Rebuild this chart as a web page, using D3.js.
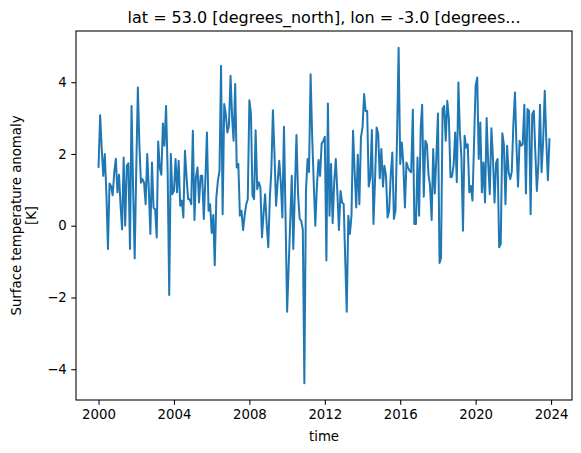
<!DOCTYPE html>
<html>
<head>
<meta charset="utf-8">
<script src="https://cdn.jsdelivr.net/npm/d3@7"></script>
<style>
  body { margin: 0; background: #fff; }
  text { font-family: "DejaVu Sans", sans-serif; fill: #000; }
</style>
</head>
<body>
<script>
"use strict";
// monthly surface temperature anomaly [K], Jan 2000 .. Dec 2023, one row per year
const startYear = 2000;
const anomaly = [
  1.64, 3.08, 2.2, 1.39, 2.0, 0.9, -0.65, 1.18, 1.1, 0.85, 1.5, 1.87,
  0.93, 1.42, 0.6, -0.1, 1.9, 0.0, 1.67, 1.74, -0.65, 3.34, 1.0, -0.91,
  1.6, 3.85, 2.3, 1.2, 1.3, 1.2, 0.6, 2.0, 1.0, -0.23, 1.76, 0.5,
  0.46, -0.33, 2.35, 1.62, 1.42, 2.85, 2.23, 3.34, 1.5, -1.93, 2.0, 0.88,
  0.97, 1.86, 0.93, 1.81, 0.56, 0.7, 0.23, 2.09, 1.35, 0.74, 0.74, 0.6,
  2.65, 0.16, 1.35, 1.62, 0.65, 1.39, 1.39, 0.19, 1.3, 2.6, 0.42, 0.6,
  -0.2, 0.3, -1.1, 0.79, 1.25, 1.53, 4.46, 0.32, 3.39, 3.11, 2.6, 2.79,
  4.18, 3.0, 2.37, 3.95, 1.62, 1.72, 0.28, 0.42, -0.12, 0.28, 0.6, 0.74,
  3.5, 3.11, 0.84, 0.74, 2.66, 1.02, 1.21, 1.07, -0.32, 0.32, 0.88, 0.05,
  -0.6, 0.79, 1.53, 3.22, 2.0, 0.56, 1.2, 1.81, 1.2, 0.23, 2.76, 0.3,
  -2.4, -1.1, 0.05, 1.39, -0.65, 1.0, 2.53, 0.88, 0.19, 0.14, -0.1, -4.39,
  0.97, 1.86, 1.5, 4.22, 2.5, 1.2, 0.0, 1.1, 1.83, 1.39, 2.29, 2.35,
  2.48, -0.97, 3.41, 0.28, 1.72, 0.07, 1.2, 1.86, 0.9, -0.12, 0.97, 0.65,
  0.6, -1.0, -2.4, 0.28, -0.23, 0.28, 2.65, 1.5, 0.51, 1.98, 0.6, 2.46,
  2.74, 3.67, 3.2, 3.2, 1.09, 1.35, 2.67, 0.05, 1.3, 2.74, 2.55, 1.32,
  2.14, 1.09, 1.67, 1.39, 0.23, 0.42, 1.4, 2.04, 0.19, 0.42, 2.5, 4.96,
  1.72, 2.32, 1.72, 0.51, 1.76, 1.62, 1.53, 1.49, 3.23, 0.05, 0.05, 1.9,
  0.28, 2.74, 3.37, 0.81, 2.37, 2.27, 1.44, 1.11, 0.16, 2.14, 0.9, 1.9,
  3.13, -1.04, -0.9, 3.26, 3.34, 2.37, 3.48, 2.97, 1.35, 1.37, 1.7, 2.6,
  1.21, 3.99, 2.65, 1.9, -0.14, 2.51, 2.18, 2.27, 0.93, 1.11, 0.7, 2.3,
  3.9, 4.13, 1.86, 2.88, 0.93, 1.76, 0.65, 3.0, 1.72, 0.88, 2.72, 1.9,
  0.65, 1.76, 1.86, -0.6, -0.51, 2.58, 2.27, 0.6, 2.23, 1.49, 1.3, 1.5,
  2.83, 3.71, 2.27, 1.09, 2.37, 2.23, 2.27, 3.37, 0.9, 3.25, 3.2, 0.32,
  3.11, 3.2, 2.09, 0.97, 1.72, 3.37, 1.49, 2.37, 3.76, 2.37, 1.27, 2.41
];
const xTickYears = [2000, 2004, 2008, 2012, 2016, 2020, 2024];
const yTicks = [-4, -2, 0, 2, 4];
const title = "lat = 53.0 [degrees_north], lon = -3.0 [degrees...";
const yLabel = ["Surface temperature anomaly", "[K]"];
const xLabel = "time";

const width = 581, height = 453;
const margin = {top: 31, right: 9, bottom: 53, left: 76};
const innerW = width - margin.left - margin.right;
const innerH = height - margin.top - margin.bottom;

const points = anomaly.map((v, i) => ({date: new Date(startYear, i, 1), value: v}));

let svg = d3.select("body")
            .append("svg")
            .attr("width", width)
            .attr("height", height);

let plot = svg.append("g")
              .attr("transform", `translate(${margin.left},${margin.top})`);

// matplotlib style 5% margins on both axes
let tExt = d3.extent(points, d => +d.date);
let tPad = (tExt[1] - tExt[0]) * 0.05;
let x = d3.scaleTime()
          .domain([new Date(tExt[0] - tPad), new Date(tExt[1] + tPad)])
          .range([0, innerW]);

let vExt = d3.extent(points, d => d.value);
let vPad = (vExt[1] - vExt[0]) * 0.05;
let y = d3.scaleLinear()
          .domain([vExt[0] - vPad, vExt[1] + vPad])
          .range([innerH, 0]);

let line = d3.line()
             .x(d => x(d.date))
             .y(d => y(d.value));

plot.append("path")
    .datum(points)
    .attr("fill", "none")
    .attr("stroke", "#1f77b4")
    .attr("stroke-width", 2)
    .attr("stroke-linejoin", "round")
    .attr("stroke-linecap", "square")
    .attr("d", line);

let xAxis = plot.append("g")
                .attr("transform", `translate(0,${innerH})`)
                .call(d3.axisBottom(x)
                        .tickValues(xTickYears.map(yr => new Date(yr, 0, 1)))
                        .tickFormat(d3.timeFormat("%Y"))
                        .tickSize(4.7)
                        .tickPadding(4.5));

let yAxis = plot.append("g")
                .call(d3.axisLeft(y)
                        .tickValues(yTicks)
                        .tickFormat(d3.format("d"))
                        .tickSize(4.7)
                        .tickPadding(4.5));

[xAxis, yAxis].forEach(a => {
    a.select(".domain").remove();
    a.selectAll("line").attr("stroke", "#000").attr("stroke-width", 1.07);
    a.selectAll("text")
     .attr("font-family", "DejaVu Sans")
     .attr("font-size", 13.3)
     .attr("fill", "#000");
});

plot.append("rect")
    .attr("width", innerW)
    .attr("height", innerH)
    .attr("fill", "none")
    .attr("stroke", "#000")
    .attr("stroke-width", 1.07);

svg.append("text")
   .attr("x", margin.left + innerW / 2)
   .attr("y", 23)
   .attr("text-anchor", "middle")
   .attr("font-size", 16)
   .text(title);

svg.append("text")
   .attr("x", margin.left + innerW / 2)
   .attr("y", 441)
   .attr("text-anchor", "middle")
   .attr("font-size", 13.3)
   .text(xLabel);

yLabel.forEach((t, i) => {
    svg.append("text")
       .attr("transform", `translate(${21 + i * 15},${margin.top + innerH / 2}) rotate(-90)`)
       .attr("text-anchor", "middle")
       .attr("font-size", 13.3)
       .text(t);
});
</script>
</body>
</html>
